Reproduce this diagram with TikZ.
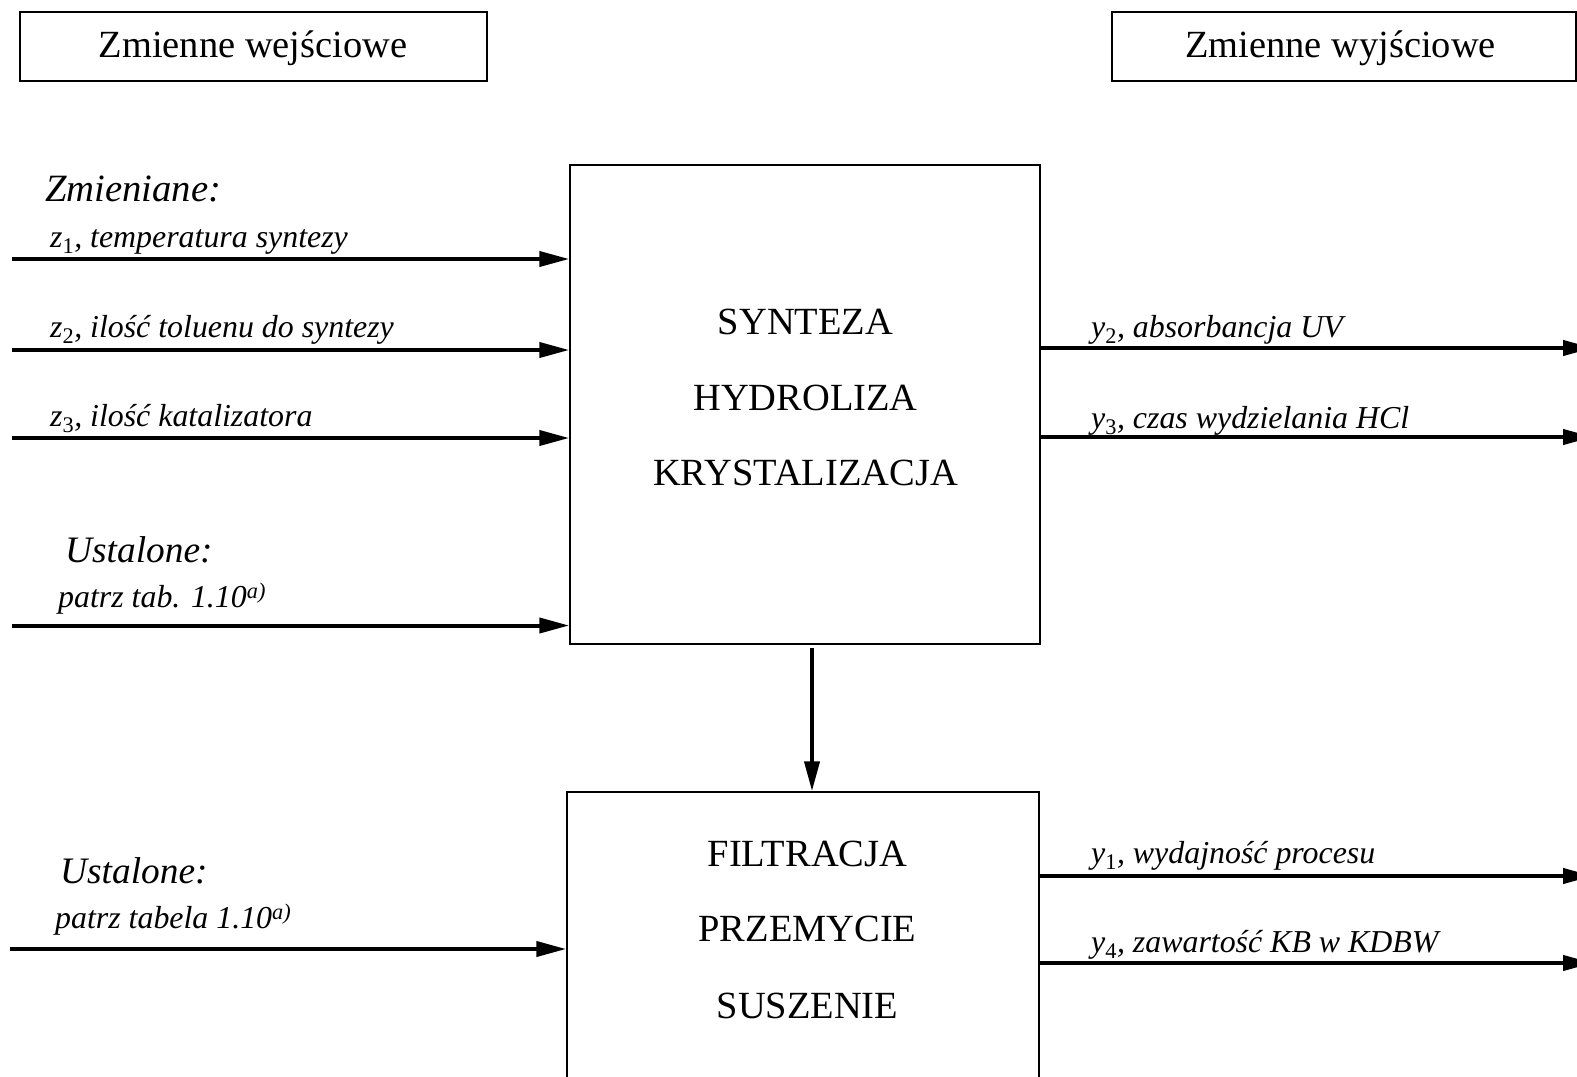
\documentclass[tikz,border=0pt]{standalone}
\usepackage{fontspec}
\setmainfont{Liberation Serif}
\usetikzlibrary{arrows.meta}
\begin{document}
\begin{tikzpicture}[x=1bp,y=-1bp,
  framebox/.style={draw, line width=1.5bp, inner sep=0pt, rectangle},
  arr/.style={line width=4bp, -{Triangle[length=30bp,width=15bp]}},
  bigtxt/.style={anchor=base, inner sep=0pt, font=\fontsize{38.6}{40}\selectfont},
  headtxt/.style={anchor=base west, inner sep=0pt, font=\fontsize{37.5}{40}\selectfont\itshape},
  lab/.style={anchor=base west, inner sep=0pt, font=\fontsize{32}{34}\selectfont\itshape},
  plab/.style={anchor=base west, inner sep=0pt, font=\fontsize{32}{34}\selectfont\itshape}]
\useasboundingbox (0,0) rectangle (1577,1076);
\begin{scope}
\clip (0,0) rectangle (1577,1076);
% heading boxes
\node[framebox, minimum width=467bp, minimum height=69bp] (inbox) at (253.5,46.5) {};
\node[bigtxt] (intxt) at (253,57) {Zmienne wejściowe};
\node[framebox, minimum width=464bp, minimum height=69bp] (outbox) at (1344,46.5) {};
\node[bigtxt] (outtxt) at (1340.5,57) {Zmienne wyjściowe};
% process boxes
\node[framebox, minimum width=470bp, minimum height=479bp] (main) at (805,404.5) {};
\node[bigtxt] (t1) at (805.5,334) {SYNTEZA};
\node[bigtxt] (t2) at (805.5,410) {HYDROLIZA};
\node[bigtxt] (t3) at (805.5,485) {KRYSTALIZACJA};
\node[framebox, minimum width=472bp, minimum height=318bp] (low) at (803,951) {};
\node[bigtxt] (t4) at (807.5,866) {FILTRACJA};
\node[bigtxt] (t5) at (807.5,941.5) {PRZEMYCIE};
\node[bigtxt] (t6) at (807.5,1018) {SUSZENIE};
% down connector
\coordinate (dx) at (812,0);
\draw[arr, shorten <=3bp] (main.south -| dx) -- (low.north -| dx);
% left labels
\node[headtxt, font=\fontsize{38.8}{40}\selectfont\itshape] (zm) at (45,201) {Zmieniane:};
\node[lab] (lz1) at (50,247) {z\textsubscript{\upshape 1}, temperatura syntezy};
\node[lab] (lz2) at (50,337) {z\textsubscript{\upshape 2}, ilość toluenu do syntezy};
\node[lab] (lz3) at (50,426) {z\textsubscript{\upshape 3}, ilość katalizatora};
\node[headtxt] (us1) at (65,562) {Ustalone:};
\node[plab] (pt1) at (58,607) {patrz tab. 1.10\textsuperscript{a)}};
\node[headtxt] (us2) at (60,883) {Ustalone:};
\node[plab] (pt2) at (55,928) {patrz tabela 1.10\textsuperscript{a)}};
% left arrows
\coordinate (a1) at (12,259);
\coordinate (a2) at (12,350);
\coordinate (a3) at (12,438);
\coordinate (a4) at (12,625.5);
\coordinate (a5) at (10,949);
\draw[arr] (a1) -- (a1 -| main.west);
\draw[arr] (a2) -- (a2 -| main.west);
\draw[arr] (a3) -- (a3 -| main.west);
\draw[arr] (a4) -- (a4 -| main.west);
\draw[arr] (a5) -- (a5 -| low.west);
% right labels
\node[lab] (ly2) at (1091,337) {y\textsubscript{\upshape 2}, absorbancja UV};
\node[lab] (ly3) at (1091,428) {y\textsubscript{\upshape 3}, czas wydzielania HCl};
\node[lab] (ly1) at (1091,863) {y\textsubscript{\upshape 1}, wydajność procesu};
\node[lab] (ly4) at (1091,952) {y\textsubscript{\upshape 4}, zawartość KB w KDBW};
% right arrows
\coordinate (b1) at (1593,348);
\coordinate (b2) at (1593,437);
\coordinate (b3) at (1593,876);
\coordinate (b4) at (1593,963);
\draw[arr] (b1 -| main.east) -- (b1);
\draw[arr] (b2 -| main.east) -- (b2);
\draw[arr] (b3 -| low.east) -- (b3);
\draw[arr] (b4 -| low.east) -- (b4);
\end{scope}
\end{tikzpicture}
\end{document}
